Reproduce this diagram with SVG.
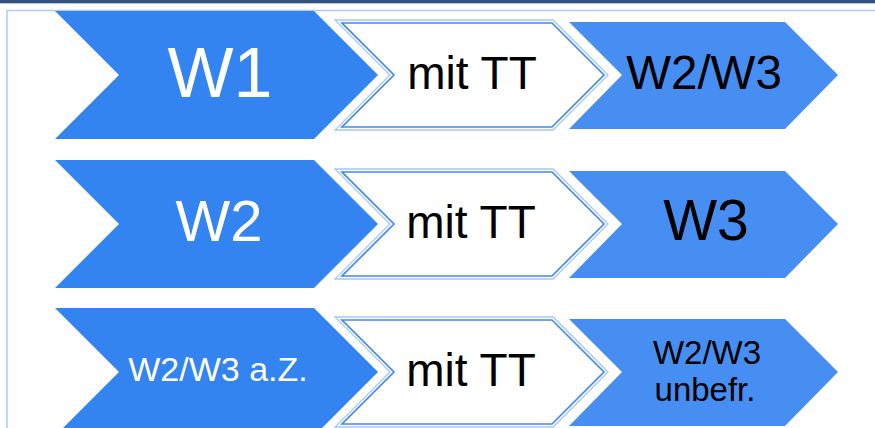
<svg xmlns="http://www.w3.org/2000/svg" xmlns:xlink="http://www.w3.org/1999/xlink" width="875" height="428" viewBox="0 0 875 428">
  <style>
    .c1 { fill: #3384f0; }
    .c3 { fill: #468ef1; }
    .wOut { fill: #ffffff; stroke: #a6c6f6; stroke-width: 1.3; }
    .wIn { fill: #ffffff; stroke: #4489ef; stroke-width: 1.7; }
    text { font-family: "Liberation Sans", Arial, sans-serif; text-anchor: middle; }
    .lw { fill: #ffffff; }
    .lb { fill: #000000; }
  </style>
  <defs>
    <polygon id="chevA" points="55,11 314,11 378,75 314,139 55,139 119,75"/>
    <polygon id="chevWo" points="335,20 553,20 608,75 553,130 335,130 390,75"/>
    <polygon id="chevWi" points="342,23 552,23 604,75 552,127 342,127 394,75"/>
    <polygon id="chevC" points="569,22 785,22 838,75 785,129 569,129 622,75"/>
  </defs>

  <rect x="0" y="0" width="875" height="428" fill="#ffffff"/>
  <g id="frame">
    <rect x="0" y="0" width="875" height="3" fill="#35517d"/>
    <rect x="0" y="3" width="875" height="1" fill="#b8c6da"/>
    <path d="M7,428 V10.5 H875" fill="none" stroke="#aecbf5" stroke-width="1.5"/>
  </g>

  <g id="connectors"/>

  <!-- Row 1 -->
  <g id="r1-w1">
    <use xlink:href="#chevA" class="c1"/>
    <text x="220" y="97" font-size="70" class="lw">W1</text>
  </g>
  <g id="r1-tt">
    <use xlink:href="#chevWo" class="wOut"/>
    <use xlink:href="#chevWi" class="wIn"/>
    <text x="472" y="89" font-size="46" class="lb">mit TT</text>
  </g>
  <g id="r1-w2w3">
    <use xlink:href="#chevC" class="c3"/>
    <text x="704" y="89" font-size="47.5" class="lb">W2/W3</text>
  </g>

  <!-- Row 2 -->
  <g id="r2-w2" transform="translate(0,149)">
    <use xlink:href="#chevA" class="c1"/>
    <text x="219" y="92" font-size="58" class="lw">W2</text>
  </g>
  <g id="r2-tt" transform="translate(0,149)">
    <use xlink:href="#chevWo" class="wOut"/>
    <use xlink:href="#chevWi" class="wIn"/>
    <text x="471" y="89" font-size="46" class="lb">mit TT</text>
  </g>
  <g id="r2-w3" transform="translate(0,149)">
    <use xlink:href="#chevC" class="c3"/>
    <text x="706" y="91" font-size="57" class="lb">W3</text>
  </g>

  <!-- Row 3 -->
  <g id="r3-w2w3az" transform="translate(0,297)">
    <use xlink:href="#chevA" class="c1"/>
    <text x="218" y="84" font-size="34" class="lw">W2/W3 a.Z.</text>
  </g>
  <g id="r3-tt" transform="translate(0,297)">
    <use xlink:href="#chevWo" class="wOut"/>
    <use xlink:href="#chevWi" class="wIn"/>
    <text x="471" y="89" font-size="46" class="lb">mit TT</text>
  </g>
  <g id="r3-unbefr" transform="translate(0,297)">
    <use xlink:href="#chevC" class="c3"/>
    <text x="707" y="66.5" font-size="33" class="lb">W2/W3</text>
    <text x="705" y="103.5" font-size="33" class="lb">unbefr.</text>
  </g>
</svg>
